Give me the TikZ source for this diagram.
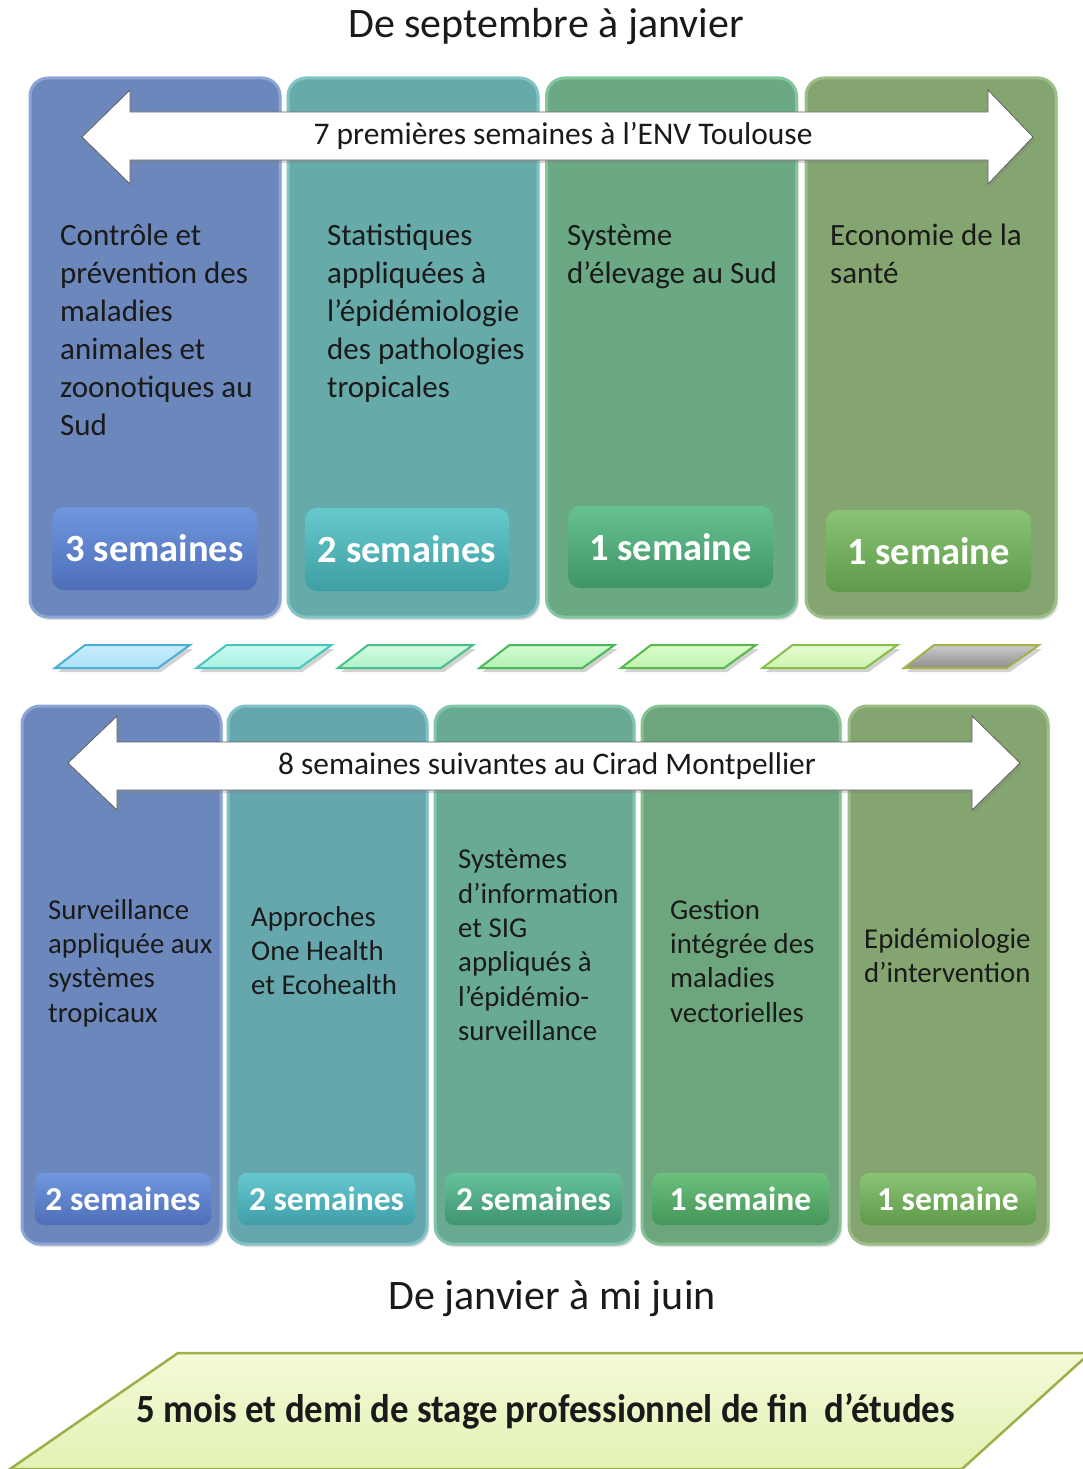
\documentclass[tikz,border=0pt]{standalone}
\usepackage{fontspec}
\setmainfont{Carlito}
\usetikzlibrary{shadows,calc}
\definecolor{txt}{HTML}{1A1A1A}
\definecolor{c1}{HTML}{6B87BB}\definecolor{c1b}{HTML}{8DA5D5}
\definecolor{c2}{HTML}{66AAA9}\definecolor{c2b}{HTML}{80C4C4}
\definecolor{c3}{HTML}{6AA984}\definecolor{c3b}{HTML}{84C69C}
\definecolor{c4}{HTML}{84A56F}\definecolor{c4b}{HTML}{9CBE86}
\definecolor{d2}{HTML}{66A7AE}\definecolor{d2b}{HTML}{80C2C8}
\definecolor{d3}{HTML}{69AA93}\definecolor{d3b}{HTML}{83C6AC}
\definecolor{d4}{HTML}{6DA67C}\definecolor{d4b}{HTML}{86C296}
\definecolor{b1t}{HTML}{6F97DE}\definecolor{b1u}{HTML}{4E6EB8}
\definecolor{b2t}{HTML}{66CACC}\definecolor{b2u}{HTML}{3E9EA2}
\definecolor{b3t}{HTML}{66C290}\definecolor{b3u}{HTML}{3E9466}
\definecolor{b4t}{HTML}{88C474}\definecolor{b4u}{HTML}{5E9A4A}
\definecolor{e2t}{HTML}{66C8D0}\definecolor{e2u}{HTML}{3F9EA8}
\definecolor{e3t}{HTML}{66C29A}\definecolor{e3u}{HTML}{3E9470}
\definecolor{e4t}{HTML}{6CC07C}\definecolor{e4u}{HTML}{44965A}
\definecolor{arrowline}{HTML}{606060}
\tikzset{
  colbox/.style={rounded corners=18pt, line width=3pt, inner sep=0pt, drop shadow={opacity=0.25, shadow xshift=2pt, shadow yshift=-3pt}},
  badge/.style={rounded corners=12pt, inner sep=0pt, text=white},
  modtxt/.style={anchor=north west, align=left, inner sep=0pt, text=txt},
  bigarrow/.style={fill=white, draw=arrowline, line width=0.8pt, drop shadow={opacity=0.3, shadow xshift=2pt, shadow yshift=-3pt}},
  para/.style={line width=2pt, drop shadow={opacity=0.35, shadow xshift=3pt, shadow yshift=-4pt}},
}
\begin{document}
\begin{tikzpicture}[x=1pt,y=1pt]
\useasboundingbox (0,0) rectangle (1082,-1469);
\fill[white] (0,0) rectangle (1082,-1469);

% titles
\node[text=txt, font=\fontsize{42}{48}\selectfont] (title1) at (546,-27) {De septembre à janvier};
\node[text=txt, font=\fontsize{42}{48}\selectfont] (title2) at (552,-1299) {De janvier à mi juin};

% top columns
\node[colbox, fill=c1, draw=c1b, minimum width=250pt, minimum height=539pt] (t1) at (155,-347.5) {};
\node[colbox, fill=c2, draw=c2b, minimum width=250pt, minimum height=539pt] (t2) at (413,-347.5) {};
\node[colbox, fill=c3, draw=c3b, minimum width=250pt, minimum height=539pt] (t3) at (671.5,-347.5) {};
\node[colbox, fill=c4, draw=c4b, minimum width=250pt, minimum height=539pt] (t4) at (931,-347.5) {};

% top arrow
\draw[bigarrow] (82,-137) -- (130,-90) -- (130,-112) -- (988,-112) -- (988,-90) -- (1033,-137)
  -- (988,-184) -- (988,-160) -- (130,-160) -- (130,-184) -- cycle;
\node[text=txt, font=\fontsize{31.5}{36}\selectfont] (a1) at (563,-136) {7 premières semaines à l’ENV Toulouse};

% top texts
\begin{scope}[font=\fontsize{31}{38}\selectfont]
\node[modtxt] (m1) at (60,-224) {Contrôle et\\prévention des\\maladies\\animales et\\zoonotiques au\\Sud};
\node[modtxt] (m2) at (327,-224) {Statistiques\\appliquées à\\l’épidémiologie\\des pathologies\\tropicales};
\node[modtxt] (m3) at (567,-224) {Système\\d’élevage au Sud};
\node[modtxt] (m4) at (830,-224) {Economie de la\\santé};
\end{scope}

% top badges
\begin{scope}[font=\fontsize{38.5}{44}\selectfont\bfseries]
\node[badge, top color=b1t, bottom color=b1u, minimum width=205pt, minimum height=83pt] (s1) at (154.5,-548.5) {3 semaines\hspace{12pt}};
\node[badge, top color=b2t, bottom color=b2u, minimum width=204pt, minimum height=83pt] (s2) at (407,-549.5) {2 semaines\hspace{4pt}};
\node[badge, top color=b3t, bottom color=b3u, minimum width=205pt, minimum height=82pt] (s3) at (670.5,-547) {1 semaine\hspace{15pt}};
\node[badge, top color=b4t, bottom color=b4u, minimum width=205pt, minimum height=82pt] (s4) at (928.5,-551) {1 semaine};
\end{scope}

% parallelograms
\foreach \i/\ft/\fb/\bd in {0/C8ECFC/ACE2F8/4AAED6, 1/CCFCF2/A8F0E2/48C6BE, 2/D4FCE2/B0F0C8/48C088,
  3/D4FCD2/B0F0B2/48B858, 4/DCFCCC/BEF4AE/58B848, 5/E6FCD2/CEF4B0/86BE48, 6/CCCCCC/8E8E8E/A8B048}{
  \definecolor{pt}{HTML}{\ft}\definecolor{pb}{HTML}{\fb}\definecolor{pd}{HTML}{\bd}
  \pgfmathsetmacro{\bl}{55+141.5*\i}
  \draw[para, top color=pt, bottom color=pb, draw=pd] (\bl,-668) -- (\bl+103,-668) -- (\bl+135,-645) -- (\bl+30,-645) -- cycle;
}

% bottom columns
\node[colbox, fill=c1, draw=c1b, minimum width=199pt, minimum height=538pt] (u1) at (121.5,-975) {};
\node[colbox, fill=d2, draw=d2b, minimum width=199pt, minimum height=538pt] (u2) at (327.5,-975) {};
\node[colbox, fill=d3, draw=d3b, minimum width=199pt, minimum height=538pt] (u3) at (534.5,-975) {};
\node[colbox, fill=d4, draw=d4b, minimum width=198pt, minimum height=538pt] (u4) at (741,-975) {};
\node[colbox, fill=c4, draw=c4b, minimum width=199pt, minimum height=538pt] (u5) at (948.5,-975) {};

% bottom arrow
\draw[bigarrow] (68,-763) -- (117,-716) -- (117,-742) -- (972,-742) -- (972,-716) -- (1020,-763)
  -- (972,-810) -- (972,-790) -- (117,-790) -- (117,-810) -- cycle;
\node[text=txt, font=\fontsize{31.4}{36}\selectfont] (a2) at (547,-766) {8 semaines suivantes au Cirad Montpellier};

% bottom texts
\begin{scope}[font=\fontsize{28.8}{34.3}\selectfont]
\node[modtxt] (n1) at (48,-899) {Surveillance\\appliquée aux\\systèmes\\tropicaux};
\node[modtxt] (n2) at (251,-906) {Approches\\One Health\\et Ecohealth};
\node[modtxt] (n3) at (458,-849) {Systèmes\\d’information\\et SIG\\appliqués à\\l’épidémio-\\surveillance};
\node[modtxt] (n4) at (670,-899) {Gestion\\intégrée des\\maladies\\vectorielles};
\node[modtxt] (n5) at (864,-928) {Epidémiologie\\d’intervention};
\end{scope}

% bottom badges
\begin{scope}[font=\fontsize{33.5}{38}\selectfont\bfseries]
\node[badge, rounded corners=9pt, top color=b1t, bottom color=b1u, minimum width=176pt, minimum height=52pt] (v1) at (123,-1199) {2 semaines};
\node[badge, rounded corners=9pt, top color=e2t, bottom color=e2u, minimum width=177pt, minimum height=52pt] (v2) at (326.5,-1199) {2 semaines};
\node[badge, rounded corners=9pt, top color=e3t, bottom color=e3u, minimum width=177pt, minimum height=52pt] (v3) at (533.5,-1199) {2 semaines};
\node[badge, rounded corners=9pt, top color=e4t, bottom color=e4u, minimum width=177pt, minimum height=52pt] (v4) at (740.5,-1199) {1 semaine};
\node[badge, rounded corners=9pt, top color=b4t, bottom color=b4u, minimum width=176pt, minimum height=52pt] (v5) at (948,-1199) {1 semaine};
\end{scope}

% internship banner
\definecolor{bant}{HTML}{F4FAD8}\definecolor{banb}{HTML}{E2F2B4}\definecolor{band}{HTML}{9CB04A}
\draw[top color=bant, bottom color=banb, draw=band, line width=2.5pt] (178,-1353) -- (1090,-1353) -- (962,-1469) -- (10,-1469) -- cycle;
\node[text=txt, font=\fontsize{40}{44}\selectfont\bfseries, xscale=0.92] (stage) at (546,-1411) {5 mois et demi de stage professionnel de fin \ d’études};
\end{tikzpicture}
\end{document}
